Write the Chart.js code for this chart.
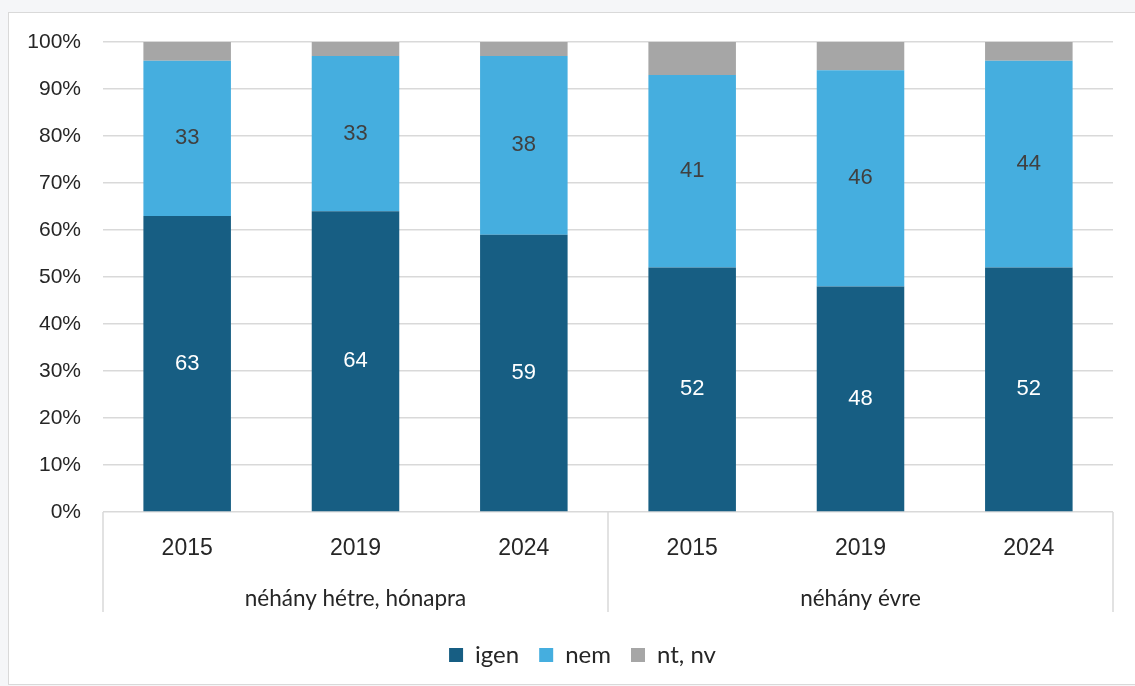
<!DOCTYPE html>
<html>
<head>
<meta charset="utf-8">
<script src="https://cdn.jsdelivr.net/npm/chart.js@4/dist/chart.umd.min.js"></script>
<style>
  html,body{margin:0;padding:0;background:#f5f6f8;}
  #panel{position:absolute;left:8px;top:12px;width:1140px;height:671px;background:#fff;border:1px solid #d9d9d9;}
  #wrap{position:absolute;left:0;top:0;width:1135px;height:686px;}
</style>
</head>
<body>
<div id="panel"></div>
<div id="wrap"><canvas id="chart"></canvas></div>
<script>
// adatok
const years = ["2015","2019","2024","2015","2019","2024"];
const groups = ["néhány hétre, hónapra","néhány évre"];
const igen = [63,64,59,52,48,52];
const nem = [33,33,38,41,46,44];
const ntnv = [4,3,3,7,6,4];
const yTicks = [0,10,20,30,40,50,60,70,80,90,100];

const arial = "'Liberation Sans', Arial, sans-serif";
const lblFont = "'Lato', sans-serif";

// value labels inside bars
const valueLabels = {
  id:"valueLabels",
  afterDatasetsDraw(chart){
    const ctx = chart.ctx;
    ctx.save();
    ctx.font = "22px " + arial;
    ctx.textAlign = "center"; ctx.textBaseline = "middle";
    [0,1].forEach(di=>{
      const meta = chart.getDatasetMeta(di);
      ctx.fillStyle = di===0 ? "#ffffff" : "#404040";
      meta.data.forEach((bar,i)=>{
        const v = chart.data.datasets[di].data[i];
        ctx.fillText(String(v), bar.x, (bar.y+bar.base)/2);
      });
    });
    ctx.restore();
  }
};

// group row + separators under the x axis
const groupAxis = {
  id:"groupAxis",
  afterLayout(chart){
    // legend sits centred under the plot area, not the whole canvas
    if(chart.legend) chart.legend.left += 52;
  },
  afterDraw(chart){
    const x = chart.scales.x, ctx = chart.ctx;
    const top = chart.chartArea.bottom, bottom = top + 100;
    const half = (x.getPixelForValue(1)-x.getPixelForValue(0))/2;
    const edges = [x.getPixelForValue(0)-half, x.getPixelForValue(3)-half, x.getPixelForValue(5)+half];
    ctx.save();
    ctx.strokeStyle = "#d9d9d9"; ctx.lineWidth = 1.5;
    edges.forEach(e=>{ctx.beginPath();ctx.moveTo(e,top);ctx.lineTo(e,bottom);ctx.stroke();});
    ctx.fillStyle = "#262626";
    ctx.font = "22.5px " + lblFont;
    ctx.textAlign = "center"; ctx.textBaseline = "middle";
    groups.forEach((g,gi)=>{
      const cx = (x.getPixelForValue(gi*3) + x.getPixelForValue(gi*3+2))/2;
      ctx.fillText(g, cx, top + 87);
    });
    ctx.restore();
  }
};

new Chart(document.getElementById("chart"),{
  type:"bar",
  data:{
    labels:years,
    datasets:[
      {label:"igen",data:igen,backgroundColor:"#175e83",barPercentage:0.52,categoryPercentage:1},
      {label:"nem",data:nem,backgroundColor:"#45aedf",barPercentage:0.52,categoryPercentage:1},
      {label:"nt, nv",data:ntnv,backgroundColor:"#a6a6a6",barPercentage:0.52,categoryPercentage:1}
    ]
  },
  options:{
    responsive:true,maintainAspectRatio:false,animation:false,
    layout:{padding:{top:42,right:22,bottom:9,left:0}},
    plugins:{
      tooltip:{enabled:false},
      legend:{position:"bottom",
        labels:{font:{family:lblFont,size:24},color:"#262626",boxWidth:14,boxHeight:14,padding:20}}
    },
    scales:{
      x:{stacked:true,
        grid:{display:false},
        border:{display:false},
        ticks:{font:{family:arial,size:23},color:"#262626",padding:15,maxRotation:0},
        afterFit(s){s.height=111;}
      },
      y:{stacked:true,min:0,max:100,
        grid:{color:"#d9d9d9",lineWidth:1.5,drawTicks:false},
        border:{display:false},
        afterBuildTicks(s){s.ticks=yTicks.map(v=>({value:v}));},
        ticks:{font:{family:arial,size:21},color:"#262626",padding:22,callback:v=>v+"%"},
        afterFit(s){s.width=103;}
      }
    }
  },
  plugins:[valueLabels,groupAxis]
});
</script>
</body>
</html>
